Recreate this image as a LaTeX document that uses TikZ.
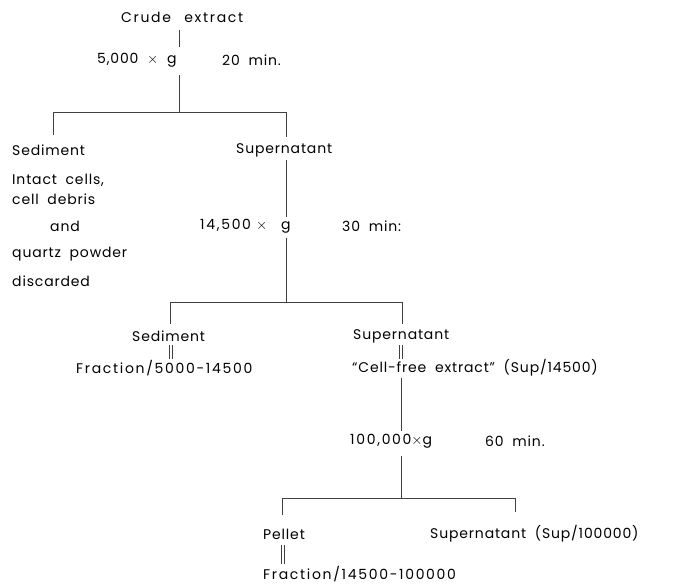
\documentclass[tikz,border=0pt]{standalone}
\usepackage{fontspec}
\setmainfont[LetterSpace=6,WordSpace=1.9]{Poppins}
\begin{document}
\begin{tikzpicture}[x=1pt,y=-1pt,
  lbl/.style={inner sep=0pt,anchor=west,font=\fontsize{14}{16}\selectfont},
  wide/.style={lbl,font=\fontsize{14}{16}\selectfont\addfontfeature{LetterSpace=12}},
  conn/.style={draw=black!75,line width=0.6pt}]
\useasboundingbox (0,0) rectangle (687,584);
% nodes
\node[wide] (crude) at (121,17) {Crude\hspace{3pt} extract};
\node[lbl] (spinA) at (97,60) {5,000 \(\times\) g};
\node[lbl] (timeA) at (222,60) {20 min.};
\node[lbl] (sedA) at (12,150) {Sediment};
\node[lbl] (supA) at (236,150) {Supernatant};
\node[lbl] (intact) at (12,180) {Intact cells,};
\node[lbl] (debris) at (12,199) {cell debris};
\node[lbl] (and) at (50,226) {and};
\node[lbl] (quartz) at (12,254) {quartz powder};
\node[lbl] (disc) at (12,281) {discarded};
\node[wide] (spinB) at (200,226) {14,500\hspace{5pt}\(\times\)\hspace{14pt}g};
\node[lbl] (timeB) at (342,226) {30 min:};
\node[lbl] (sedB) at (132,336) {Sediment};
\node[wide] (fracB) at (76,368) {Fraction/5000-14500};
\node[lbl] (supB) at (353,336) {Supernatant};
\node[lbl] (cfe) at (352,368) {“Cell-free extract” (Sup/14500)};
\node[wide] (spinC) at (350,441) {100,000\(\times\)g};
\node[lbl] (timeC) at (485,441) {60 min.};
\node[lbl] (pellet) at (263,534) {Pellet};
\node[lbl] (supC) at (430,534) {Supernatant (Sup/100000)};
\node[wide] (fracC) at (263,574) {Fraction/14500-100000};
% junction coordinates
\coordinate (jA) at (179,112);
\coordinate (jAl) at (53,112);
\coordinate (jAr) at (286,112);
\coordinate (jB) at (286,302);
\coordinate (jBl) at (170,302);
\coordinate (jBr) at (402,302);
\coordinate (jC) at (401,498);
\coordinate (jCl) at (282,498);
\coordinate (jCr) at (515,498);
% connectors
\draw[conn] (179,30) -- (179,47);
\draw[conn] (179,75) -- (jA);
\draw[conn] (jAl) -- (jAr);
\draw[conn] (jAl) -- (53,135);
\draw[conn] (jAr) -- (286,137);
\draw[conn] (286,160) -- (286,217);
\draw[conn] (286,238) -- (jB);
\draw[conn] (jBl) -- (jBr);
\draw[conn] (jBl) -- (170,324);
\draw[conn] (jBr) -- (402,324);
\draw[conn] (169.5,345) -- (169.5,359);
\draw[conn] (172.5,345) -- (172.5,359);
\draw[conn] (399.5,345) -- (399.5,359);
\draw[conn] (402.5,345) -- (402.5,359);
\draw[conn] (401,378) -- (401,431);
\draw[conn] (401,456) -- (jC);
\draw[conn] (jCl) -- (jCr);
\draw[conn] (jCl) -- (282,515);
\draw[conn] (jCr) -- (515,512);
\draw[conn] (281.5,545) -- (281.5,564);
\draw[conn] (284.5,545) -- (284.5,564);
\end{tikzpicture}
\end{document}
